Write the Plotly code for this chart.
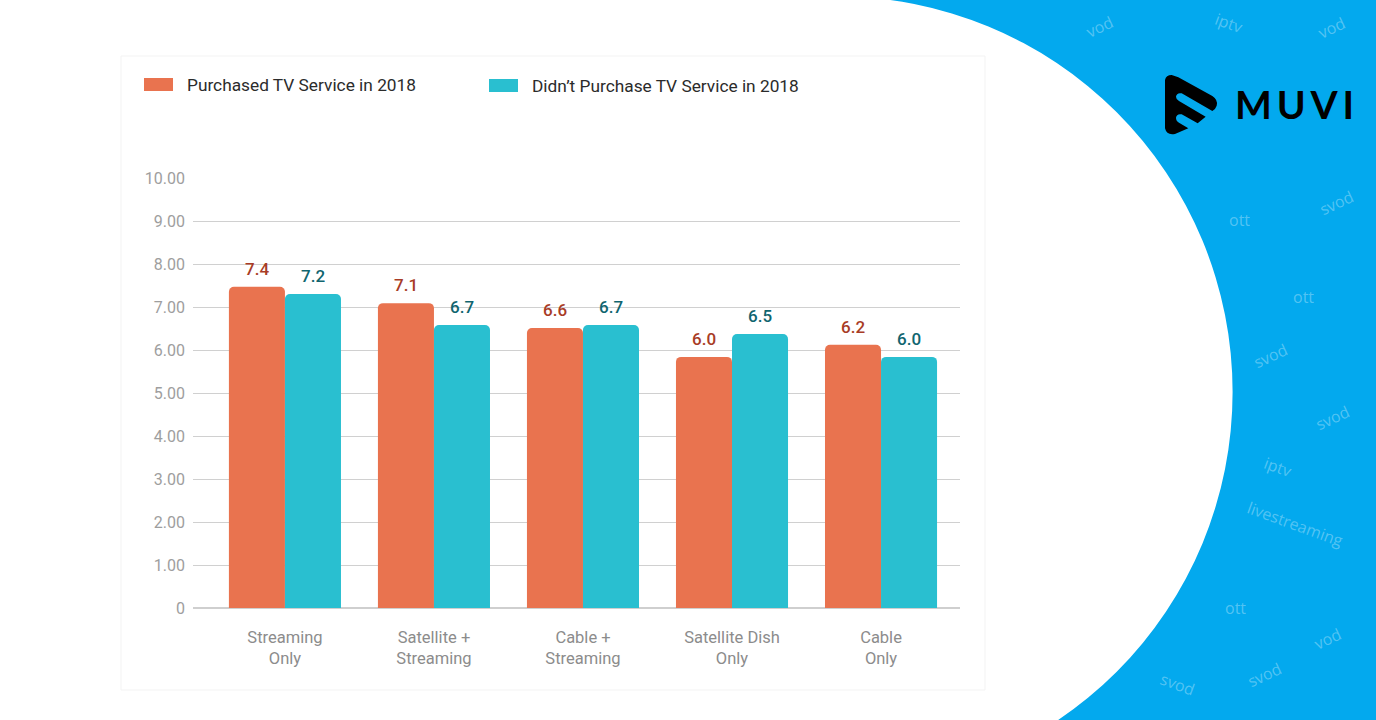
import plotly.graph_objects as go

W, H = 1376, 720
categories = ["Streaming<br>Only", "Satellite +<br>Streaming", "Cable +<br>Streaming", "Satellite Dish<br>Only", "Cable<br>Only"]
series_a_name = "Purchased TV Service in 2018"
series_b_name = "Didn’t Purchase TV Service in 2018"
bar_heights_a = [7.47, 7.09, 6.51, 5.84, 6.12]
bar_heights_b = [7.30, 6.58, 6.58, 6.37, 5.84]
labels_a = ["7.4", "7.1", "6.6", "6.0", "6.2"]
labels_b = ["7.2", "6.7", "6.7", "6.5", "6.0"]
tick_values = [0, 1, 2, 3, 4, 5, 6, 7, 8, 9, 10]
tick_labels = ["0", "1.00", "2.00", "3.00", "4.00", "5.00", "6.00", "7.00", "8.00", "9.00", "10.00"]
watermarks = [("vod", 1099, 27, -25), ("iptv", 1229, 23, 20), ("vod", 1331, 28, -25),
              ("ott", 1239, 220, 0), ("svod", 1336, 203, -25), ("ott", 1303, 297, 0),
              ("svod", 1270, 356, -25), ("svod", 1332, 418, -25), ("iptv", 1278, 467, 20),
              ("livestreaming", 1295, 524, 20), ("ott", 1235, 608, 0), ("vod", 1327, 639, -25),
              ("svod", 1177, 684, 20), ("svod", 1264, 675, -25)]

ORANGE, TEAL, BLUE = "#E9734F", "#29BFD0", "#03A9EE"
FONT = "Roboto"

def px(x): return x / W
def py(y): return 1 - y / H

fig = go.Figure()
fig.add_bar(name=series_a_name, x=list(range(5)), y=bar_heights_a, marker=dict(color=ORANGE, cornerradius=5, line_width=0))
fig.add_bar(name=series_b_name, x=list(range(5)), y=bar_heights_b, marker=dict(color=TEAL, cornerradius=5, line_width=0))

shapes = []
def rect(x0, y0, x1, y1, **kw):
    shapes.append(dict(type="rect", xref="paper", yref="paper", x0=px(x0), x1=px(x1), y0=py(y0), y1=py(y1), layer="below", **kw))

# blue page with a large white disc
rect(0, 0, 837, 720, fillcolor="white", line_width=0)
cx, cy, r = 837, 392, 395.6
shapes.append(dict(type="circle", xref="paper", yref="paper", x0=px(cx - r), x1=px(cx + r),
                   y0=py(cy + r), y1=py(cy - r), fillcolor="white", line_width=0, layer="below"))
# card
rect(121, 56, 985, 690, fillcolor="white", line=dict(color="#F3F3F3", width=1))
# legend swatches
rect(144, 78, 173, 91, fillcolor=ORANGE, line_width=0)
rect(489, 79, 518, 92, fillcolor=TEAL, line_width=0)

# logo outline (zoom coordinates of the mark)
def lp(zx, zy): return f"{px(1155 + zx / 3):.5f},{py(65 + zy / 3):.5f}"
logo = ("M" + lp(30, 45) + "Q" + lp(33, 30) + " " + lp(50, 30) + "L" + lp(70, 37) + "L" + lp(172, 93)
        + "Q" + lp(190, 105) + " " + lp(185, 122) + "Q" + lp(182, 132) + " " + lp(172, 138)
        + "L" + lp(80, 85) + "Q" + lp(65, 82) + " " + lp(63, 95) + "Q" + lp(63, 103) + " " + lp(72, 108)
        + "L" + lp(152, 155) + "L" + lp(128, 175) + "L" + lp(80, 148) + "Q" + lp(65, 145) + " " + lp(63, 158)
        + "Q" + lp(63, 168) + " " + lp(72, 173) + "L" + lp(100, 190) + "L" + lp(60, 207)
        + "Q" + lp(35, 212) + " " + lp(30, 190) + "Z")
shapes.append(dict(type="path", xref="paper", yref="paper", path=logo, fillcolor="black", line_width=0))

ann = []
def paper_text(text, x, y, size, color, anchor="center", angle=0, family=FONT, weight=None):
    f = dict(family=family, size=size, color=color)
    if weight: f["weight"] = weight
    ann.append(dict(text=text, xref="paper", yref="paper", x=px(x), y=py(y), xanchor=anchor, yanchor="middle",
                    showarrow=False, textangle=angle, font=f))

paper_text(series_a_name, 185, 85, 17.3, "#2b2b2b", "left")
paper_text(series_b_name, 530, 86, 17.3, "#2b2b2b", "left")
for t, x, y, a in watermarks:
    paper_text(t, x, y, 16, "rgba(255,255,255,0.32)", angle=a, family="Open Sans")
paper_text("M\u2009U\u2009V\u2009I", 1294, 104, 39, "black", family="Lato", weight=700)

# value labels above the bars
for i in range(5):
    ann.append(dict(x=i, y=bar_heights_a[i], xref="x", yref="y", text=labels_a[i], showarrow=False, xshift=-28, yshift=6,
                    yanchor="bottom", font=dict(family=FONT, size=17, color="#A83C26", weight=500)))
    ann.append(dict(x=i, y=bar_heights_b[i], xref="x", yref="y", text=labels_b[i], showarrow=False, xshift=28, yshift=6,
                    yanchor="bottom", font=dict(family=FONT, size=17, color="#10656F", weight=500)))

fig.update_layout(
    width=W, height=H, margin=dict(l=0, r=0, t=0, b=0, autoexpand=False), autosize=False,
    paper_bgcolor=BLUE, plot_bgcolor="rgba(0,0,0,0)", showlegend=False,
    barmode="group", bargap=0.248, bargroupgap=0,
    shapes=shapes, annotations=ann,
    font=dict(family=FONT),
    xaxis=dict(domain=[px(193), px(960)], range=[-0.617, 4.53], tickmode="array", tickvals=list(range(5)),
               ticktext=categories, showgrid=False, zeroline=False, showline=False, ticks="", automargin=False,
               tickangle=0, tickfont=dict(family=FONT, size=16.5, color="#8C8C8C"), ticklabelstandoff=17),
    yaxis=dict(domain=[py(608), py(178)], range=[0, 10], tickmode="array", tickvals=tick_values, ticktext=tick_labels,
               showgrid=True, gridcolor="#D0D0D0", gridwidth=1, zeroline=True, zerolinecolor="#CFCFCF", showline=False, automargin=False,
               ticks="", tickfont=dict(family=FONT, size=16, color="#9E9E9E"), ticklabelstandoff=7),
)
fig.write_html("out.html", config=dict(displayModeBar=False), post_script="document.body.style.margin='0';")
